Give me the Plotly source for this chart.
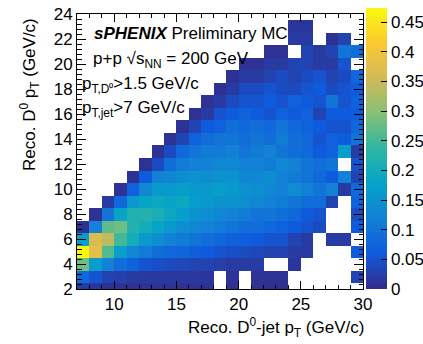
import plotly.graph_objects as go

N = None
# x bins: Reco. D0-jet pT, edges 7..30 (columns 7..29)
x_edges = list(range(7, 31))
# y bins: Reco. D0 pT, centred on integers 2..24
y_edges = [c - 0.5 for c in range(2, 26)]

row_y02 = [0.02, 0.015, 0.01, 0.01, 0.01, 0.01, 0.01, 0.01, 0.01, 0.01, 0.01, N, 0.008, N, 0.008, 0.006, 0.006, N, N, N, N, N, N]
row_y03 = [0.08, 0.05, 0.03, 0.025, 0.02, 0.018, 0.018, 0.018, 0.018, 0.018, 0.015, N, 0.012, N, 0.012, 0.01, 0.01, N, N, N, N, N, 0.03]
row_y04 = [0.28, 0.17, 0.12, 0.09, 0.07, 0.05, 0.045, 0.04, 0.035, 0.03, 0.03, 0.025, 0.02, 0.02, 0.02, N, N, 0.015, N, N, N, N, N]
row_y05 = [0.47, 0.38, 0.26, 0.17, 0.13, 0.11, 0.09, 0.08, 0.075, 0.065, 0.06, 0.05, 0.045, 0.04, 0.035, 0.03, 0.03, 0.02, 0.02, N, N, N, 0.06]
row_y06 = [0.17, 0.37, 0.34, 0.25, 0.2, 0.16, 0.14, 0.12, 0.11, 0.1, 0.09, 0.08, 0.07, 0.065, 0.06, 0.05, 0.05, 0.03, 0.02, N, 0.02, 0.02, N]
row_y07 = [0.01, 0.12, 0.27, 0.28, 0.22, 0.2, 0.18, 0.16, 0.14, 0.13, 0.12, 0.11, 0.1, 0.09, 0.09, 0.08, 0.07, 0.06, 0.05, 0.04, N, N, 0.06]
row_y08 = [N, 0.01, 0.1, 0.18, 0.22, 0.22, 0.21, 0.19, 0.17, 0.15, 0.14, 0.13, 0.12, 0.11, 0.1, 0.1, 0.09, 0.08, 0.06, 0.05, N, N, 0.04]
row_y09 = [N, N, 0.02, 0.08, 0.16, 0.18, 0.19, 0.18, 0.19, 0.17, 0.16, 0.15, 0.15, 0.14, 0.13, 0.12, 0.11, 0.1, 0.09, 0.09, 0.03, N, 0.07]
row_y10 = [N, N, N, 0.01, 0.07, 0.13, 0.16, 0.16, 0.17, 0.16, 0.16, 0.17, 0.16, 0.15, 0.14, 0.13, 0.12, 0.14, 0.12, 0.1, 0.12, 0.02, 0.08]
row_y11 = [N] * 4 + [0.01, 0.06, 0.12, 0.13, 0.14, 0.15, 0.14, 0.15, 0.15, 0.13, 0.13, 0.14, 0.12, 0.11, 0.1, 0.08, 0.06, 0.12, 0.03]
row_y12 = [N] * 5 + [0.01, 0.04, 0.09, 0.11, 0.12, 0.12, 0.13, 0.13, 0.12, 0.12, 0.11, 0.13, 0.12, 0.1, 0.09, 0.1, N, 0.05]
row_y13 = [N] * 6 + [0.01, 0.04, 0.08, 0.1, 0.11, 0.11, 0.12, 0.1, 0.11, 0.12, 0.1, 0.09, 0.08, 0.06, 0.07, 0.17, 0.02]
row_y14 = [N] * 7 + [0.01, 0.03, 0.07, 0.09, 0.1, 0.1, 0.09, 0.1, 0.09, 0.11, 0.09, 0.08, 0.05, 0.07, 0.06, 0.1]
row_y15 = [N] * 8 + [0.01, 0.03, 0.06, 0.07, 0.09, 0.08, 0.09, 0.08, 0.1, 0.08, 0.07, 0.06, 0.05, 0.05, 0.08]
row_y16 = [N] * 9 + [0.01, 0.02, 0.05, 0.06, 0.07, 0.06, 0.05, 0.07, 0.06, 0.07, 0.03, 0.06, 0.06, 0.06]
row_y17 = [N] * 10 + [0.01, 0.02, 0.04, 0.05, 0.05, 0.06, 0.05, 0.07, 0.06, 0.05, 0.1, 0.05, 0.07]
row_y18 = [N] * 11 + [0.01, 0.02, 0.04, 0.04, 0.05, 0.04, 0.04, 0.05, 0.06, 0.04, 0.05, 0.06]
row_y19 = [N] * 12 + [0.01, 0.02, 0.02, 0.03, 0.04, 0.03, 0.04, 0.05, 0.03, 0.04, 0.08]
row_y20 = [N] * 13 + [0.01, 0.01, 0.02, 0.02, 0.03, 0.03, 0.02, 0.02, 0.05, N]
row_y21 = [N] * 15 + [0.01, 0.01, N, 0.03, 0.02, 0.03, 0.1, 0.09]
row_y22 = [N] * 17 + [0.02, 0.02, N, 0.01, 0.03, N]
row_y23 = [N] * 17 + [0.015, 0.015, N, N, N, N]
row_y24 = [N] * 23

z = [row_y02, row_y03, row_y04, row_y05, row_y06, row_y07, row_y08, row_y09,
     row_y10, row_y11, row_y12, row_y13, row_y14, row_y15, row_y16, row_y17,
     row_y18, row_y19, row_y20, row_y21, row_y22, row_y23, row_y24]

# ROOT kBird palette
stops = [0.0, 0.125, 0.25, 0.375, 0.5, 0.625, 0.75, 0.875, 1.0]
red = [0.2082, 0.0592, 0.0780, 0.0232, 0.1802, 0.5301, 0.8186, 0.9956, 0.9764]
green = [0.1664, 0.3599, 0.5041, 0.6419, 0.7178, 0.7492, 0.7328, 0.7862, 0.9832]
blue = [0.5293, 0.8684, 0.8385, 0.7914, 0.6425, 0.4662, 0.3499, 0.1968, 0.0539]
colorscale = [[s, f"rgb({int(r*255)},{int(g*255)},{int(b*255)})"] for s, r, g, b in zip(stops, red, green, blue)]

FONT = "Liberation Sans, Arial, Helvetica, sans-serif"

L, R, T, B = 77, 60, 14, 55
W, H = 423, 344
PW, PH = W - L - R, H - T - B

def px(xp):
    return (xp - L) / PW

def py(yp):
    return (H - B - yp) / PH

fig = go.Figure(go.Heatmap(
    x=x_edges, y=y_edges, z=z,
    colorscale=colorscale, zmin=0, zmax=0.474,
    hoverongaps=False,
    colorbar=dict(
        x=px(366), xanchor="left", xpad=0,
        y=0, yanchor="bottom", ypad=0,
        thickness=21, thicknessmode="pixels",
        len=281, lenmode="pixels",
        outlinewidth=0,
        ticks="inside", ticklen=6, tickcolor="black",
        tick0=0, dtick=0.05,
        tickfont=dict(family=FONT, size=17, color="black"),
    ),
))

axis_common = dict(
    showline=True, linecolor="black", linewidth=1, mirror="ticks",
    ticks="inside", tickcolor="black", tickwidth=1,
    showgrid=False, zeroline=False,
    tickfont=dict(family=FONT, size=17, color="black"),
)

fig.update_layout(
    width=W, height=H,
    margin=dict(l=L, r=R, t=T, b=B, autoexpand=False),
    paper_bgcolor="white", plot_bgcolor="white",
    xaxis=dict(range=[7, 30], tick0=0, dtick=5, ticklen=8,
               minor=dict(dtick=1, ticklen=4, ticks="inside", tickcolor="black"),
               **axis_common),
    yaxis=dict(range=[2, 24], tick0=0, dtick=2, ticklen=9,
               minor=dict(dtick=0.4, tick0=0, ticklen=4.5, ticks="inside", tickcolor="black"),
               **axis_common),
    font=dict(family=FONT, size=16, color="black"),
)

annots = [
    dict(text="<b><i>sPHENIX</i></b> Preliminary MC", x=px(92), y=py(33), xanchor="left", yanchor="middle"),
    dict(text="p+p \u221As<sub>NN</sub> = 200 GeV", x=px(91), y=py(60), xanchor="left", yanchor="middle"),
    dict(text="p<sub>T,D\u2070</sub>>1.5 GeV/c", x=px(80), y=py(85), xanchor="left", yanchor="middle"),
    dict(text="p<sub>T,jet</sub>>7 GeV/c", x=px(80), y=py(109), xanchor="left", yanchor="middle"),
    dict(text="Reco. D<sup>0</sup>-jet p<sub>T</sub> (GeV/c)", x=px(366), y=py(327), xanchor="right", yanchor="middle"),
    dict(text="Reco. D<sup>0</sup> p<sub>T</sub> (GeV/c)", x=px(29), y=py(95), xanchor="center", yanchor="middle", textangle=-90),
]
for a in annots:
    fig.add_annotation(xref="paper", yref="paper", showarrow=False,
                       font=dict(family=FONT, size=17, color="black"), **a)

fig.write_html("out.html")
